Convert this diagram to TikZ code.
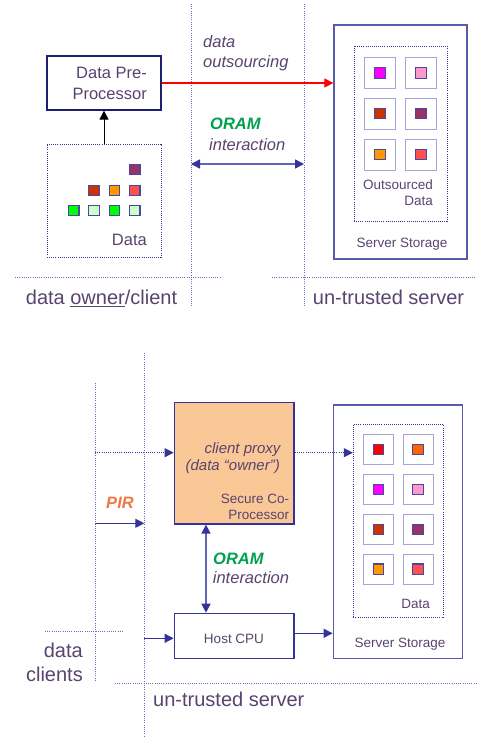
\documentclass[tikz,border=0pt]{standalone}
\usepackage{fontspec}
\setmainfont{Liberation Sans}
\usetikzlibrary{arrows.meta}
\definecolor{txt}{RGB}{88,68,110}
\definecolor{navy}{RGB}{51,51,153}
\definecolor{lnavy}{RGB}{100,100,180}
\definecolor{dnavy}{RGB}{30,30,110}
\definecolor{stb}{RGB}{90,90,170}
\definecolor{dotc}{RGB}{110,110,190}
\definecolor{cellc}{RGB}{165,165,215}
\definecolor{sqb}{RGB}{75,70,160}
\definecolor{oramg}{RGB}{0,160,80}
\definecolor{piro}{RGB}{240,120,70}
\definecolor{peach}{RGB}{250,200,150}
\definecolor{cPurple}{HTML}{993366}
\definecolor{cBrick}{HTML}{CC3300}
\definecolor{cOrange}{HTML}{FF9900}
\definecolor{cSalmon}{HTML}{FF5050}
\definecolor{cGreen}{HTML}{00FF00}
\definecolor{cLGreen}{HTML}{CCFFCC}
\definecolor{cMagenta}{HTML}{FF00FF}
\definecolor{cPink}{HTML}{FF99CC}
\definecolor{cRed}{HTML}{FF0000}
\definecolor{cOr2}{HTML}{FF6600}
\newcommand\szA{\fontsize{20}{24}\selectfont}
\newcommand\szB{\fontsize{16.5}{20}\selectfont}
\newcommand\szC{\fontsize{15}{18}\selectfont}
\newcommand\szD{\fontsize{13.5}{16}\selectfont}
\begin{document}
\begin{tikzpicture}[x=1pt,y=-1pt,text=txt,
  dotline/.style={draw=dotc,line width=0.9pt,dash pattern=on 0.9pt off 1.3pt},
  tipa/.style={-{Triangle[length=9pt,width=9pt]}},
  tipb/.style={{Triangle[length=9pt,width=9pt,color=navy]}-{Triangle[length=9pt,width=9pt,color=navy]}},
  box/.style={draw=dnavy,line width=1.3pt,inner sep=0,fill=white},
  sbox/.style={draw=stb,line width=1.3pt,inner sep=0},
  dbox/.style={draw=navy,line width=0.9pt,dash pattern=on 0.9pt off 1.2pt,inner sep=0},
  cell/.style={draw=cellc,line width=0.9pt,minimum size=31pt,inner sep=0},
  sq/.style={draw=sqb,line width=1.1pt,minimum size=10.5pt,inner sep=0},
  lw/.style={anchor=mid west,inner sep=0},
  le/.style={anchor=mid east,inner sep=0},
  lc/.style={anchor=mid,inner sep=0}]
\useasboundingbox (0,0) rectangle (476,738);

% ---------------- top diagram ----------------
\coordinate (v1t) at (191,4);   \coordinate (v1b) at (191,306);
\coordinate (v2t) at (304,4);   \coordinate (v2b) at (304,306);
\coordinate (h1a) at (15,277);  \coordinate (h1b) at (221,277);
\coordinate (h2a) at (272,277); \coordinate (h2b) at (476,277);
\draw[dotline] (v1t) -- (v1b);
\draw[dotline] (v2t) -- (v2b);
\draw[dotline] (h1a) -- (h1b);
\draw[dotline] (h2a) -- (h2b);

\node[box,minimum width=114pt,minimum height=54pt] (pre) at (104,83) {};
\node[le,font=\szB] (preA) at (147,75.5) {Data Pre-};
\node[le,font=\szB] (preB) at (147,96.5) {Processor};

\node[dbox,minimum width=114pt,minimum height=113pt] (dat) at (104,200.5) {};
\node[sq,fill=cPurple] (d1) at (134.7,169.5) {};
\node[sq,fill=cBrick]  (d2) at (93.8,190.5) {};
\node[sq,fill=cOrange] (d3) at (114.3,190.5) {};
\node[sq,fill=cSalmon] (d4) at (134.7,190.5) {};
\node[sq,fill=cGreen]  (d5) at (73.7,210.5) {};
\node[sq,fill=cLGreen] (d6) at (93.8,210.5) {};
\node[sq,fill=cGreen]  (d7) at (114.3,210.5) {};
\node[sq,fill=cLGreen] (d8) at (134.7,210.5) {};
\node[le,font=\szB] (datL) at (147,242.5) {Data};
\draw[black,line width=1pt,tipa] (dat.north) -- (pre.south);

\node[sbox,minimum width=133pt,minimum height=234pt] (st1) at (400.5,142) {};
\node[dbox,minimum width=93pt,minimum height=175pt] (in1) at (400.5,133.5) {};
\node[cell] (c11) at (380,73) {};    \node[sq,fill=cMagenta] at (c11) {};
\node[cell] (c12) at (421,73) {};    \node[sq,fill=cPink] at (c12) {};
\node[cell] (c21) at (380,113.7) {}; \node[sq,fill=cBrick] at (c21) {};
\node[cell] (c22) at (421,113.7) {}; \node[sq,fill=cPurple] at (c22) {};
\node[cell] (c31) at (380,154.5) {}; \node[sq,fill=cOrange] at (c31) {};
\node[cell] (c32) at (421,154.5) {}; \node[sq,fill=cSalmon] at (c32) {};
\node[lw,font=\szD] (outL) at (363,186.5) {Outsourced};
\node[le,font=\szD] (outD) at (433,203) {Data};
\node[lc,font=\szD] (ss1) at (402,244.5) {Server Storage};

\draw[cRed,line width=1.2pt,tipa] (pre.east) -- (pre.east -| st1.west);
\node[lw,font=\szB\itshape] (do1) at (203,44.5) {data};
\node[lw,font=\szB\itshape] (do2) at (203,64.5) {outsourcing};

\coordinate (o1) at (191,164);
\coordinate (o2) at (304,164);
\draw[lnavy,line width=1.6pt,tipb] (o1) -- (o2);
\node[lw,font=\szB\bfseries\itshape,text=oramg] (or1) at (210,126.5) {ORAM};
\node[lw,font=\szB\itshape] (or2) at (209,147.5) {interaction};

\node[lc,font=\szA] (own) at (101.5,302) {data \underline{owner}/client};
\node[lc,font=\szA] (uts1) at (388.5,302) {un-trusted server};

% ---------------- bottom diagram ----------------
\coordinate (w1t) at (144.3,352.7); \coordinate (w1b) at (144.3,738);
\coordinate (w2t) at (95,382.7);    \coordinate (w2b) at (95,680);
\coordinate (g1a) at (45,631.7);    \coordinate (g1b) at (123,631.7);
\coordinate (g2a) at (115,683.3);   \coordinate (g2b) at (476,683.3);
\draw[dotline] (w1t) -- (w1b);
\draw[dotline] (w2t) -- (w2b);
\draw[dotline] (g1a) -- (g1b);
\draw[dotline] (g2a) -- (g2b);

\node[draw=navy,line width=1.3pt,fill=peach,inner sep=0,minimum width=119.7pt,minimum height=121.3pt] (sec) at (234.15,463.35) {};
\node[le,font=\szC\itshape] (cp1) at (280.7,450.8) {client proxy};
\node[le,font=\szC\itshape] (cp2) at (280,468.2) {(data “owner”)};
\node[le,font=\szD] (sc1) at (289.3,501.3) {Secure Co-};
\node[le,font=\szD] (sc2) at (289.3,517) {Processor};

\node[draw=navy,line width=1.3pt,fill=white,inner sep=0,minimum width=119.7pt,minimum height=45pt] (host) at (234.15,635.8) {};
\node[lc,font=\szD] (hostL) at (234,640.6) {Host CPU};

\node[sbox,minimum width=129.4pt,minimum height=253.3pt] (st2) at (398,531.65) {};
\node[dbox,minimum width=90pt,minimum height=193.4pt] (in2) at (398.3,521) {};
\node[cell,minimum size=30pt] (e11) at (378.3,449.3) {}; \node[sq,fill=cRed] at (e11) {};
\node[cell,minimum size=30pt] (e12) at (418,449.3) {};   \node[sq,fill=cOr2] at (e12) {};
\node[cell,minimum size=30pt] (e21) at (378.3,489.3) {}; \node[sq,fill=cMagenta] at (e21) {};
\node[cell,minimum size=30pt] (e22) at (418,489.3) {};   \node[sq,fill=cPink] at (e22) {};
\node[cell,minimum size=30pt] (e31) at (378.3,529.3) {}; \node[sq,fill=cBrick] at (e31) {};
\node[cell,minimum size=30pt] (e32) at (418,529.3) {};   \node[sq,fill=cPurple] at (e32) {};
\node[cell,minimum size=30pt] (e41) at (378.3,569.2) {}; \node[sq,fill=cOrange] at (e41) {};
\node[cell,minimum size=30pt] (e42) at (418,569.2) {};   \node[sq,fill=cSalmon] at (e42) {};
\node[le,font=\szD] (dat2) at (430,605.6) {Data};
\node[lc,font=\szD] (ss2) at (400,644.6) {Server Storage};

% connectors
\coordinate (pl) at (95,452.7);
\draw[navy,line width=0.9pt,dash pattern=on 0.9pt off 1.3pt,tipa] (pl) -- (pl -| sec.west);
\draw[navy,line width=0.9pt,dash pattern=on 0.9pt off 1.3pt,tipa] (sec.east |- pl) -- (pl -| in2.west);

\coordinate (pa) at (95,523.3);
\coordinate (pb) at (144.3,523.3);
\draw[navy,line width=1.2pt,tipa] (pa) -- (pb);
\node[lc,font=\szB\bfseries\itshape,text=piro] (pir) at (120,505.5) {PIR};

\coordinate (ox) at (206,570);
\draw[lnavy,line width=1.6pt,tipb] (sec.south -| ox) -- (host.north -| ox);
\node[lw,font=\szB\bfseries\itshape,text=oramg] (or3) at (213,561.5) {ORAM};
\node[lw,font=\szB\itshape] (or4) at (212.7,580.8) {interaction};

\coordinate (hl) at (144.3,638.3);
\draw[navy,line width=1.2pt,tipa] (hl) -- (hl -| host.west);
\coordinate (hr) at (294,633.3);
\draw[navy,line width=1.2pt,tipa] (host.east |- hr) -- (hr -| st2.west);

\node[le,font=\szA] (dc1) at (83,655) {data};
\node[le,font=\szA] (dc2) at (83,678.7) {clients};
\node[lw,font=\szA] (uts2) at (153,703.7) {un-trusted server};
\end{tikzpicture}
\end{document}
